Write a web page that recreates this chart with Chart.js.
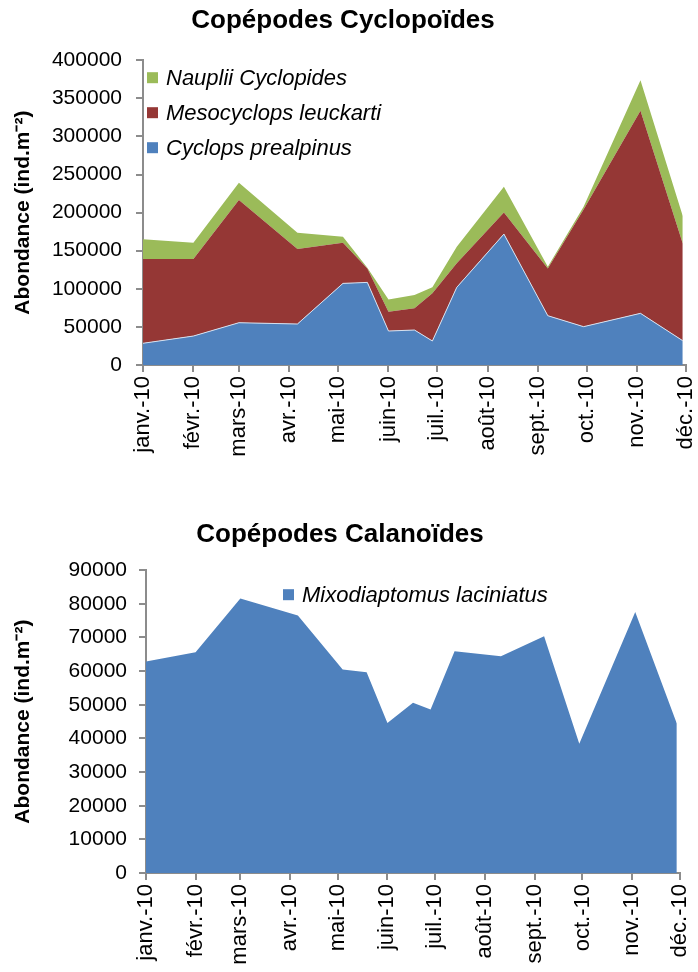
<!DOCTYPE html>
<html>
<head>
<meta charset="utf-8">
<script src="https://cdn.jsdelivr.net/npm/chart.js@4/dist/chart.umd.min.js"></script>
<style>
  body { margin: 0; background: #fff; }
  canvas { display: block; }
</style>
</head>
<body>
<canvas id="cyclopoidChart" width="698" height="490"></canvas>
<canvas id="calanoidChart" width="698" height="482"></canvas>
<script>
// sampling dates and month ticks
const sampleDates = ['2010-01-01','2010-02-01','2010-03-01','2010-04-06','2010-05-04','2010-05-19','2010-06-01',
    '2010-06-17','2010-06-28','2010-07-13','2010-08-11','2010-09-07','2010-09-29','2010-11-03','2010-11-29'];
const monthDates = ['2010-01-01','2010-02-01','2010-03-01','2010-04-01','2010-05-01','2010-06-01',
    '2010-07-01','2010-08-01','2010-09-01','2010-10-01','2010-11-01','2010-12-01'];
const monthLabels = ['janv.-10','févr.-10','mars-10','avr.-10','mai-10','juin-10',
    'juil.-10','août-10','sept.-10','oct.-10','nov.-10','déc.-10'];

// Cyclopoides (ind.m-2)
const cyclopsPrealpinus = [28500, 38000, 55500, 53800, 107100, 108400, 44600, 45900, 31500, 101900, 171800, 64700, 50300, 67800, 31900];
const mesocyclopsLeuckarti = [110500, 101000, 160900, 98300, 53300, 18400, 25300, 28500, 62500, 31500, 28400, 62100, 153900, 265800, 127700];
const naupliiCyclopides = [25900, 21400, 22700, 21400, 7900, 700, 16200, 17400, 7900, 21800, 33700, 2200, 3400, 40200, 35800];

// Calanoides (ind.m-2)
const mixodiaptomusLaciniatus = [62900, 65600, 81600, 76500, 60500, 59700, 44600, 50600, 48600, 65900, 64400, 70400, 38400, 77600, 44400];

const FONT = "'Liberation Sans', Arial, sans-serif";
const AXIS_GREY = '#8c8c8c';

function dayOf(d) {
    return (Date.parse(d) - Date.parse('2010-01-01')) / 86400000;
}
const sampleDays = sampleDates.map(dayOf);
const monthDays = monthDates.map(dayOf);

function points(values) {
    return values.map((v, i) => ({ x: sampleDays[i], y: v }));
}

// legend drawn inside the plot area
const insideLegend = {
    id: 'insideLegend',
    afterDatasetsDraw(chart, args, opts) {
        const ctx = chart.ctx;
        const area = chart.chartArea;
        const sets = chart.data.datasets.slice().reverse();
        ctx.save();
        ctx.font = 'italic 22px ' + FONT;
        ctx.textBaseline = 'middle';
        sets.forEach((ds, i) => {
            const cy = area.top + opts.y + i * opts.spacing;
            ctx.fillStyle = ds.backgroundColor;
            ctx.fillRect(area.left + opts.x, cy - 5.5, 11, 11);
            ctx.fillStyle = '#000';
            ctx.fillText(ds.label, area.left + opts.x + 19, cy + 1);
        });
        ctx.restore();
    }
};

function makeOptions(cfg) {
    return {
        responsive: false,
        devicePixelRatio: 1,
        animation: false,
        layout: { padding: { left: 0, right: cfg.padRight, top: 0, bottom: 0 } },
        elements: { point: { radius: 0 }, line: { tension: 0 } },
        plugins: {
            legend: { display: false },
            tooltip: { enabled: false },
            title: {
                display: true,
                text: cfg.title,
                color: '#000',
                font: { family: FONT, size: 26, weight: 'bold' },
                padding: cfg.titlePad
            },
            insideLegend: cfg.legend
        },
        scales: {
            x: {
                type: 'linear',
                min: monthDays[0],
                max: monthDays[monthDays.length - 1],
                afterBuildTicks: (scale) => { scale.ticks = monthDays.map(v => ({ value: v })); },
                afterFit: (scale) => {
                    scale.height = cfg.xHeight;
                    scale.paddingLeft = 0;
                    scale.paddingRight = 0;
                },
                ticks: {
                    minRotation: 90,
                    maxRotation: 90,
                    autoSkip: false,
                    padding: 4,
                    color: '#000',
                    font: { family: FONT, size: 22 },
                    callback: (v) => monthLabels[monthDays.indexOf(v)]
                },
                grid: { drawOnChartArea: false, drawTicks: true, tickLength: 7, color: AXIS_GREY, lineWidth: 2 },
                border: { display: true, color: AXIS_GREY, width: 2 }
            },
            y: {
                stacked: cfg.stacked,
                min: 0,
                max: cfg.yMax,
                afterFit: (scale) => { scale.width = cfg.yWidth; },
                ticks: {
                    stepSize: cfg.yStep,
                    padding: cfg.yPad,
                    color: '#000',
                    font: { family: FONT, size: 21 },
                    callback: (v) => String(v)
                },
                title: {
                    display: true,
                    text: 'Abondance (ind.m⁻²)',
                    color: '#000',
                    font: { family: FONT, size: 21, weight: 'bold' },
                    padding: { top: 11, bottom: 0 }
                },
                grid: { drawOnChartArea: false, drawTicks: true, tickLength: 7, color: AXIS_GREY, lineWidth: 2 },
                border: { display: true, color: AXIS_GREY, width: 2 }
            }
        }
    };
}

// Copépodes Cyclopoïdes
new Chart(document.getElementById('cyclopoidChart'), {
    type: 'line',
    data: {
        datasets: [{
            label: 'Cyclops prealpinus',
            data: points(cyclopsPrealpinus),
            backgroundColor: '#4F81BD',
            borderColor: '#d6e0ee',
            borderWidth: 1,
            fill: 'origin'
        }, {
            label: 'Mesocyclops leuckarti',
            data: points(mesocyclopsLeuckarti),
            backgroundColor: '#953735',
            borderColor: '#953735',
            borderWidth: 0,
            fill: '-1'
        }, {
            label: 'Nauplii Cyclopides',
            data: points(naupliiCyclopides),
            backgroundColor: '#9BBB59',
            borderColor: '#9BBB59',
            borderWidth: 0,
            fill: '-1'
        }]
    },
    options: makeOptions({
        title: 'Copépodes Cyclopoïdes',
        titlePad: { top: 5, bottom: 24 },
        padRight: 12,
        xHeight: 125,
        yWidth: 143,
        yPad: 14,
        yMax: 400000,
        yStep: 50000,
        stacked: true,
        legend: { x: 4, y: 17.5, spacing: 35 }
    }),
    plugins: [insideLegend]
});

// Copépodes Calanoïdes
new Chart(document.getElementById('calanoidChart'), {
    type: 'line',
    data: {
        datasets: [{
            label: 'Mixodiaptomus laciniatus',
            data: points(mixodiaptomusLaciniatus),
            backgroundColor: '#4F81BD',
            borderColor: '#4F81BD',
            borderWidth: 0,
            fill: 'origin'
        }]
    },
    options: makeOptions({
        title: 'Copépodes Calanoïdes',
        titlePad: { top: 29, bottom: 20 },
        padRight: 18,
        xHeight: 99,
        yWidth: 146,
        yPad: 12,
        yMax: 90000,
        yStep: 10000,
        stacked: false,
        legend: { x: 137, y: 24.5, spacing: 35 }
    }),
    plugins: [insideLegend]
});
</script>
</body>
</html>
